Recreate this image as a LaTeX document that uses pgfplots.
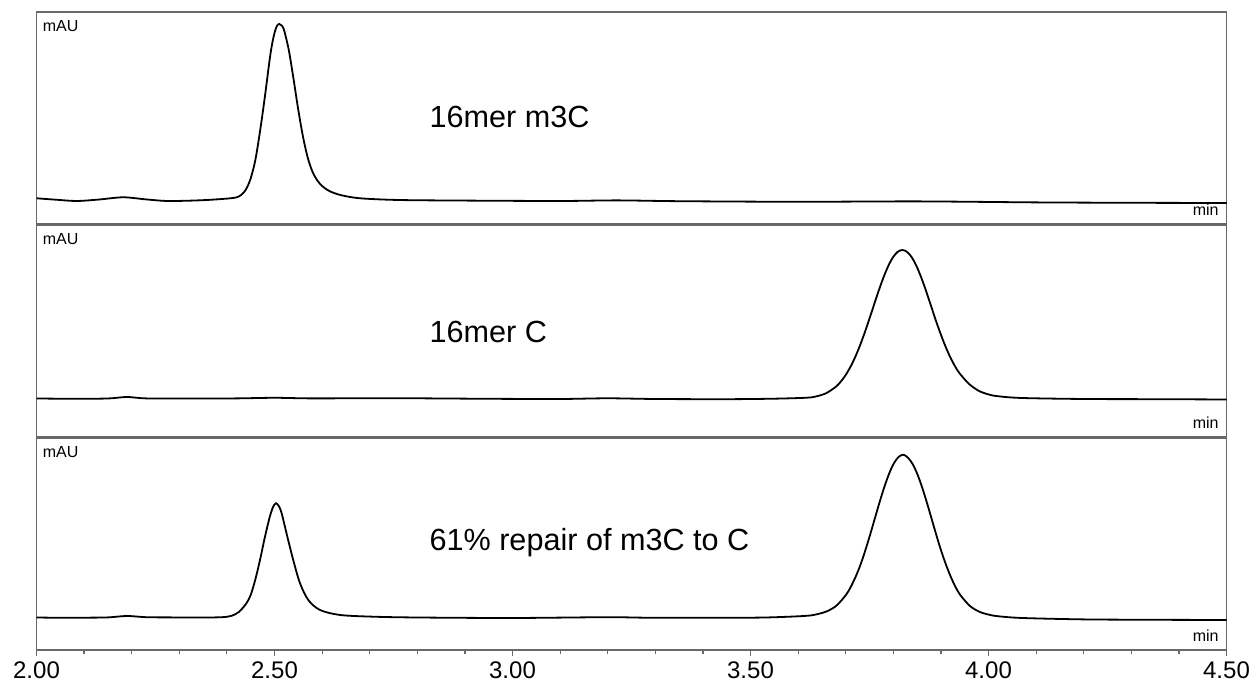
\documentclass[border=0pt]{standalone}
\usepackage{pgfplots}
\pgfplotsset{compat=1.18}
\usepackage{fontspec}
\setmainfont{Liberation Sans}
\definecolor{frame}{RGB}{105,105,105}
\pgfplotsset{
  panel/.style={
    scale only axis, width=595pt, height=106pt,
    xmin=2, xmax=4.5, ymin=0, ymax=212,
    axis line style={frame, line width=0.6pt},
    ytick=\empty, xtick=\empty,
    clip=true,
  },
  trace/.style={black, line width=0.9pt, smooth, no marks},
}
\begin{document}
\begin{tikzpicture}[x=1pt,y=1pt]
\path[use as bounding box] (-18.25,-16.5) rectangle (608.25,325);

% ---------- top panel ----------
\begin{axis}[panel, at={(0pt,213pt)}, anchor=south west]
\addplot[trace] coordinates {
(2.000,25.7) (2.040,24.3) (2.084,23.0) (2.130,24.4) (2.182,26.7) (2.230,24.6)
(2.273,23.0) (2.320,23.3) (2.358,24.0) (2.390,25.0) (2.405,25.6) (2.42,26.6)
(2.43,29) (2.44,34.5) (2.45,45.6) (2.46,64.6) (2.47,94) (2.48,128)
(2.49,165) (2.495,180) (2.50,191) (2.505,198) (2.51,200) (2.515,198.5)
(2.52,194) (2.53,174) (2.54,145) (2.55,114) (2.56,87) (2.57,66)
(2.58,52) (2.59,43.5) (2.60,38) (2.615,33) (2.64,28.8) (2.68,25.7)
(2.76,24) (2.90,23.4) (3.10,23.0) (3.22,23.6) (3.35,22.8) (3.60,22.2)
(3.85,22.6) (4.10,21.6) (4.30,21.2) (4.50,21.0)
};
\node[anchor=north west, inner sep=0pt, font=\fontsize{8}{9}\selectfont] at (rel axis cs:0,1) [xshift=3pt, yshift=-4pt] {mAU};
\node[anchor=base east, inner sep=0pt, font=\fontsize{8}{9}\selectfont] at (rel axis cs:1,0) [xshift=-3.75pt, yshift=4pt] {min};
\node[anchor=base west, inner sep=0pt, font=\fontsize{15.3}{18}\selectfont] at (axis cs:2.825,96) {16mer m3C};
\end{axis}

% ---------- middle panel ----------
\begin{axis}[panel, at={(0pt,106.5pt)}, anchor=south west]
\addplot[trace] coordinates {
(2.00,38.5) (2.08,38.2) (2.15,38.5) (2.19,40.0) (2.23,38.6) (2.32,38.5)
(2.42,38.6) (2.50,39.2) (2.58,38.6) (2.75,38.8) (2.95,38.2) (3.10,38.0)
(3.20,38.7) (3.30,38.0) (3.45,37.8) (3.55,38.3) (3.619,39.3) (3.639,40.7)
(3.659,43.8) (3.679,50.1) (3.689,55.0) (3.699,61.3) (3.709,69.3) (3.719,78.9)
(3.729,90.3) (3.739,103.1) (3.749,117.0) (3.759,131.5) (3.769,145.8) (3.779,159.1)
(3.789,170.6) (3.799,179.5) (3.809,185.1) (3.819,187) (3.829,185.1) (3.839,179.5)
(3.849,170.6) (3.859,159.1) (3.869,145.8) (3.879,131.5) (3.889,117.0) (3.899,103.6)
(3.909,91.3) (3.919,80.4) (3.929,71.3) (3.939,63.8) (3.959,53.1) (3.979,46.3)
(3.999,42.7) (4.019,40.8) (4.07,39.0) (4.20,38.0) (4.35,37.8) (4.50,37.5)
};
\node[anchor=north west, inner sep=0pt, font=\fontsize{8}{9}\selectfont] at (rel axis cs:0,1) [xshift=3pt, yshift=-4pt] {mAU};
\node[anchor=base east, inner sep=0pt, font=\fontsize{8}{9}\selectfont] at (rel axis cs:1,0) [xshift=-3.75pt, yshift=4pt] {min};
\node[anchor=base west, inner sep=0pt, font=\fontsize{15.3}{18}\selectfont] at (axis cs:2.825,94) {16mer C};
\end{axis}

% ---------- bottom panel ----------
\begin{axis}[panel, at={(0pt,0pt)}, anchor=south west,
  xtick={2,2.5,3,3.5,4,4.5}, minor x tick num=4,
  xtick pos=bottom, tick align=outside,
  major tick length=3pt, minor tick length=2pt,
  tick style={frame, line width=0.6pt},
  xticklabel style={font=\fontsize{12}{14}\selectfont, inner sep=1pt, yshift=-1.5pt},
  xticklabel={\pgfmathprintnumber[fixed, fixed zerofill, precision=2, assume math mode=true]{\tick}},
]
\addplot[trace] coordinates {
(2.00,32.5) (2.05,32.2) (2.10,32.3) (2.15,32.6) (2.19,34.0) (2.23,32.8)
(2.28,32.6) (2.35,32.5) (2.39,32.8) (2.41,34.2) (2.425,38) (2.44,46)
(2.45,55) (2.46,71) (2.47,91) (2.48,113.3) (2.49,133) (2.497,143)
(2.503,146.7) (2.509,144) (2.515,136.7) (2.527,113.3) (2.5395,89.7) (2.5536,66.7)
(2.571,50) (2.5956,40) (2.638,35) (2.7075,33.3) (2.80,32.5) (3.00,32.0)
(3.20,32.8) (3.30,32.2) (3.50,32.3) (3.571,33.1) (3.621,34.3) (3.641,35.9)
(3.661,38.8) (3.681,44.5) (3.701,55.4) (3.711,63.4) (3.721,73.4) (3.731,85.2)
(3.741,99.3) (3.751,114.8) (3.761,131.2) (3.771,147.5) (3.781,162.8) (3.791,176.1)
(3.801,186.5) (3.811,193.0) (3.821,195.3) (3.831,192.2) (3.841,185.7) (3.851,175.3)
(3.861,162.0) (3.871,146.7) (3.881,130.4) (3.891,114.0) (3.901,98.5) (3.911,84.9)
(3.921,72.9) (3.931,62.8) (3.941,54.8) (3.961,44.0) (3.981,38.2) (4.001,35.3)
(4.021,33.7) (4.071,32.0) (4.20,30.6) (4.35,30.2) (4.50,30.0)
};
\node[anchor=north west, inner sep=0pt, font=\fontsize{8}{9}\selectfont] at (rel axis cs:0,1) [xshift=3pt, yshift=-4pt] {mAU};
\node[anchor=base east, inner sep=0pt, font=\fontsize{8}{9}\selectfont] at (rel axis cs:1,0) [xshift=-3.75pt, yshift=4pt] {min};
\node[anchor=base west, inner sep=0pt, font=\fontsize{15.3}{18}\selectfont] at (axis cs:2.825,99) {61\% repair of m3C to C};
\end{axis}
\end{tikzpicture}
\end{document}
